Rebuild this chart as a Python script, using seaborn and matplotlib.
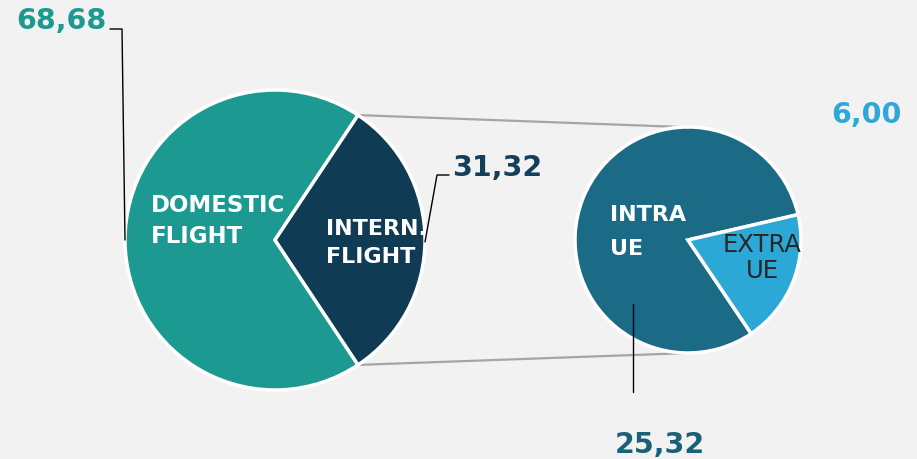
import numpy as np
import matplotlib.pyplot as plt
import seaborn as sns

# data
flight_types = ['DOMESTIC\nFLIGHT', 'INTERN.\nFLIGHT']
flight_share = [68.68, 31.32]
intern_types = ['INTRA\nUE', 'EXTRA\nUE']
intern_share = [25.32, 6.00]

flight_colors = ['#1c9a91', '#0f3b54']
intern_colors = ['#1b6b87', '#2ba8d6']
flight_value_colors = ['#1c9a91', '#143f5a']
intern_value_colors = ['#1a6079', '#2ea8d8']

W, H = 917, 460


def Y(p):
    # pixel row -> data y (y axis points up)
    return H - p


def fmt(v):
    return f'{v:.2f}'.replace('.', ',')


sns.set_theme(style='white', rc={'figure.facecolor': '#f2f2f2', 'axes.facecolor': '#f2f2f2'})
plt.rcParams['font.family'] = ['DejaVu Sans']

fig = plt.figure(figsize=(W / 100, H / 100), dpi=100)
ax = fig.add_axes([0, 0, 1, 1])

wp = dict(edgecolor='white', linewidth=2.5)
c1, r1 = (275, Y(241)), 150
c2, r2 = (688, Y(241)), 113

# left pie, international slice centred on the right
w1, _ = ax.pie(flight_share, colors=flight_colors, center=c1, radius=r1,
               startangle=180 * flight_share[1] / sum(flight_share),
               wedgeprops=wp)
# right pie, breakdown of the international slice
w2, _ = ax.pie(intern_share, colors=intern_colors, center=c2, radius=r2,
               startangle=13, wedgeprops=wp)

# connection lines between the two pies
t_top = np.deg2rad(w1[1].theta2)
t_bot = np.deg2rad(w1[1].theta1)
ax.plot([c1[0] + r1 * np.cos(t_top), c2[0] - 6], [c1[1] + r1 * np.sin(t_top), c2[1] + r2],
        color='#a6a6a6', lw=1.6, zorder=0)
ax.plot([c1[0] + r1 * np.cos(t_bot), c2[0] + 2], [c1[1] + r1 * np.sin(t_bot), c2[1] - r2],
        color='#a6a6a6', lw=1.6, zorder=0)

# labels inside the slices
ax.text(151, Y(221), flight_types[0], color='white', fontsize=16.5, fontweight='bold',
        ha='left', va='center', linespacing=1.45)
ax.text(326, Y(243), flight_types[1], color='white', fontsize=16, fontweight='bold',
        ha='left', va='center', linespacing=1.45)
ax.text(610, Y(232), intern_types[0], color='white', fontsize=16, fontweight='bold',
        ha='left', va='center', linespacing=1.85)
ax.text(762, Y(258), intern_types[1], color='#262626', fontsize=17.5,
        ha='center', va='center', linespacing=1.15)

# value labels with leader lines
vkw = dict(fontsize=20.5, fontweight='bold', va='baseline')
ax.text(106, Y(29), fmt(flight_share[0]), color=flight_value_colors[0], ha='right', **vkw)
ax.plot([110, 122, 125], [Y(30), Y(30), Y(241)], color='black', lw=1)

ax.text(452, Y(176), fmt(flight_share[1]), color=flight_value_colors[1], ha='left', **vkw)
ax.plot([449, 437, 425], [Y(176), Y(176), Y(243)], color='black', lw=1)

ax.text(660, Y(453), fmt(intern_share[0]), color=intern_value_colors[0], ha='center', **vkw)
ax.plot([633, 633], [Y(305), Y(393)], color='black', lw=1)

ax.text(866, Y(123), fmt(intern_share[1]), color=intern_value_colors[1], ha='center', **vkw)

ax.set_xlim(0, W)
ax.set_ylim(0, H)
ax.set_aspect('auto')
ax.axis('off')

fig.savefig('out.png', dpi=100, facecolor=fig.get_facecolor())
